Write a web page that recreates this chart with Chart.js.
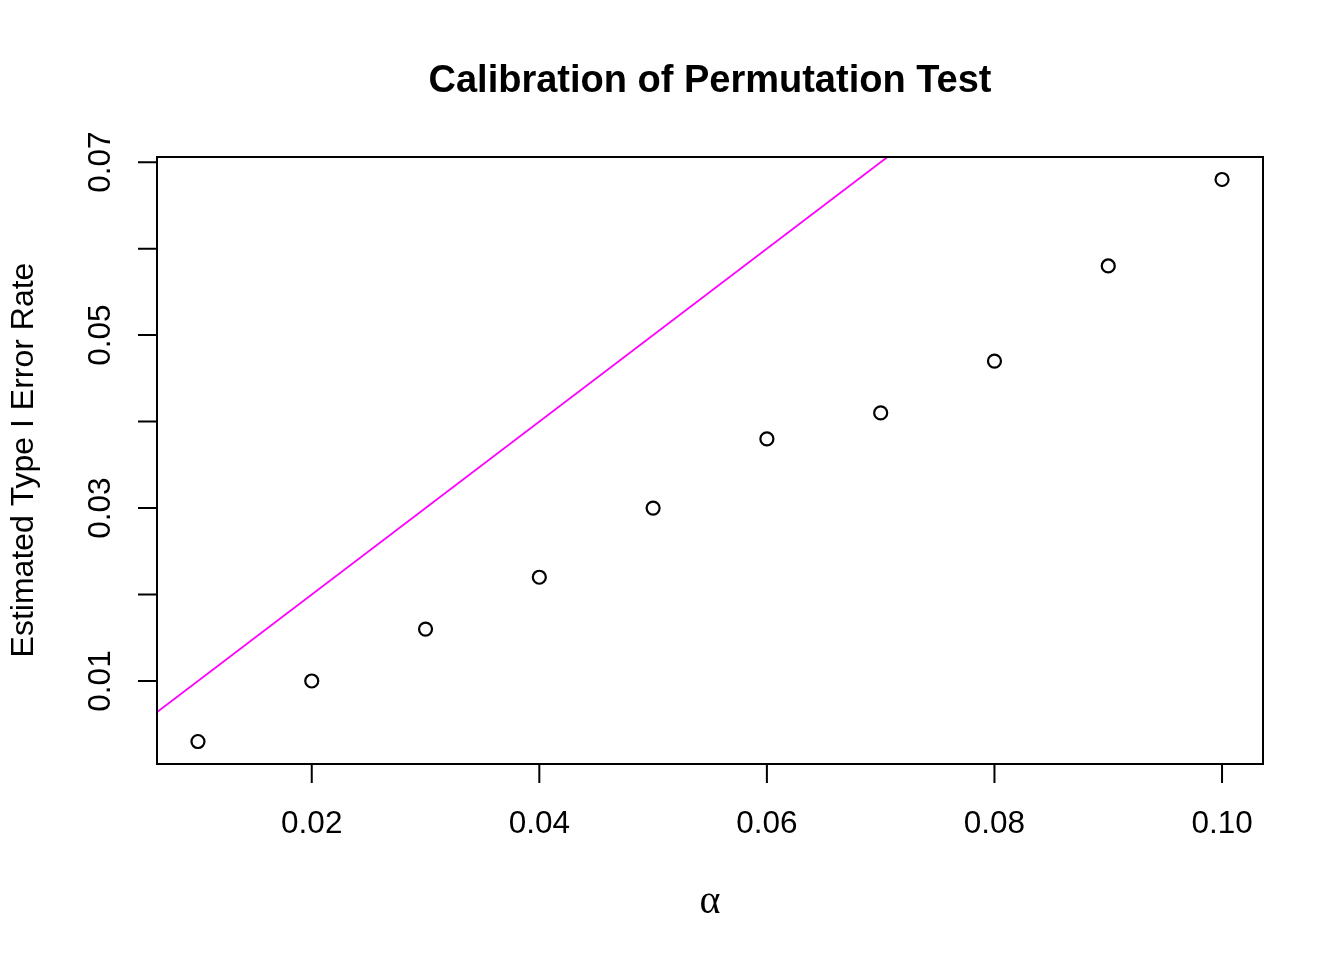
<!DOCTYPE html>
<html><head><meta charset="utf-8">
<script src="https://cdn.jsdelivr.net/npm/chart.js@4"></script>
<style>html,body{margin:0;padding:0;background:#fff;}#wrap{width:1344px;height:960px;}</style>
</head><body><div id="wrap"><canvas id="c" width="1344" height="960"></canvas></div>
<script>
const alphaValues = [0.01,0.02,0.03,0.04,0.05,0.06,0.07,0.08,0.09,0.10];
const typeIErrorRates = [0.003,0.010,0.016,0.022,0.030,0.038,0.041,0.047,0.058,0.068];
const refLineX = [0, 0.12];
const refLineY = [0, 0.12];
const xTicks = [0.02,0.04,0.06,0.08,0.10];
const xTickLabels = ["0.02","0.04","0.06","0.08","0.10"];
const yTicks = [0.01,0.02,0.03,0.04,0.05,0.06,0.07];
const yTickLabels = ["0.01","","0.03","","0.05","","0.07"];
const titleText = "Calibration of Permutation Test";
const xLabel = "α";
const yLabel = "Estimated Type I Error Rate";

const FONT = "'Liberation Sans', Arial, sans-serif";

const rAxes = {
  id: 'rAxes',
  afterDraw(chart) {
    const ctx = chart.ctx, a = chart.chartArea;
    const xs = chart.scales.x, ys = chart.scales.y;
    ctx.save();
    ctx.strokeStyle = '#000'; ctx.lineWidth = 2;
    ctx.strokeRect(a.left, a.top, a.right - a.left, a.bottom - a.top);
    // x ticks
    ctx.beginPath();
    const x0 = xs.getPixelForValue(xTicks[0]), x1 = xs.getPixelForValue(xTicks[xTicks.length-1]);
    ctx.moveTo(x0, a.bottom); ctx.lineTo(x1, a.bottom);
    xTicks.forEach(v => { const p = xs.getPixelForValue(v); ctx.moveTo(p, a.bottom); ctx.lineTo(p, a.bottom + 19); });
    ctx.stroke();
    ctx.fillStyle = '#000';
    ctx.font = '31.5px ' + FONT; ctx.textAlign = 'center'; ctx.textBaseline = 'middle';
    xTicks.forEach((v,i) => ctx.fillText(xTickLabels[i], xs.getPixelForValue(v), 824));
    // y ticks
    ctx.beginPath();
    yTicks.forEach(v => { const p = ys.getPixelForValue(v); ctx.moveTo(a.left, p); ctx.lineTo(a.left - 19, p); });
    ctx.stroke();
    yTicks.forEach((v,i) => {
      if (!yTickLabels[i]) return;
      ctx.save(); ctx.translate(101, ys.getPixelForValue(v)); ctx.rotate(-Math.PI/2);
      ctx.fillText(yTickLabels[i], 0, 0); ctx.restore();
    });
    // axis titles
    ctx.save(); ctx.translate(24, 460); ctx.rotate(-Math.PI/2);
    ctx.font = '32px ' + FONT; ctx.fillText(yLabel, 0, 0); ctx.restore();
    ctx.font = '40px "Liberation Serif", "DejaVu Serif", serif';
    ctx.fillText(xLabel, 710, 902);
    ctx.font = 'bold 38px ' + FONT;
    ctx.fillText(titleText, 710, 82);
    ctx.restore();
  }
};

new Chart(document.getElementById('c'), {
  type: 'scatter',
  data: {
    datasets: [
      {
        type: 'line',
        data: refLineX.map((x,i) => ({x, y: refLineY[i]})),
        borderColor: '#ff00ff', borderWidth: 1.8, pointRadius: 0, fill: false, tension: 0
      },
      {
        data: alphaValues.map((x,i) => ({x, y: typeIErrorRates[i]})),
        pointRadius: 6.5, pointHoverRadius: 6.5,
        pointBackgroundColor: 'rgba(0,0,0,0)', pointBorderColor: '#000', pointBorderWidth: 2.2,
        showLine: false
      }
    ]
  },
  options: {
    responsive: false, animation: false, devicePixelRatio: 1,
    layout: { padding: { left: 157, right: 81, top: 157, bottom: 196 } },
    plugins: { legend: { display: false }, tooltip: { enabled: false }, title: { display: false } },
    scales: {
      x: { type: 'linear', min: 0.0064, max: 0.1036, display: false },
      y: { type: 'linear', min: 0.0004, max: 0.0706, display: false }
    }
  },
  plugins: [rAxes]
});
</script>
</body></html>
